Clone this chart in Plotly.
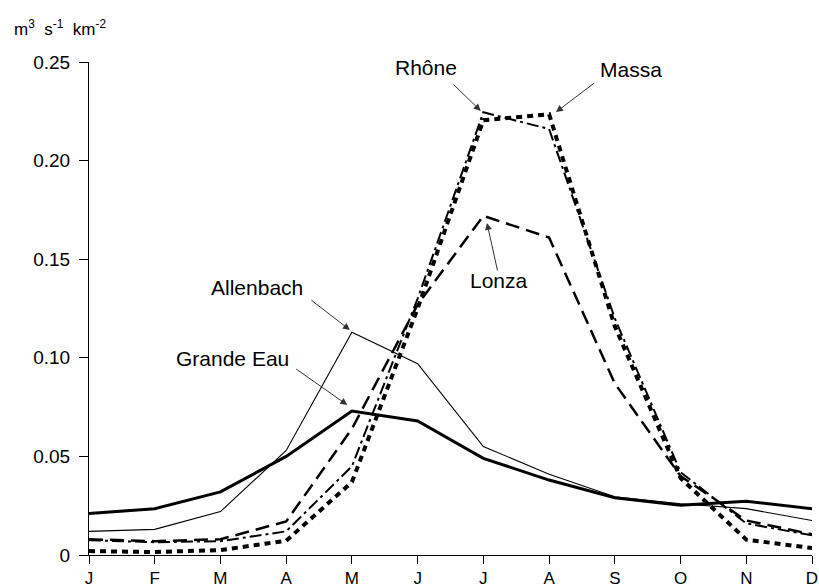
import plotly.graph_objects as go

months = ["J", "F", "M", "A", "M", "J", "J", "A", "S", "O", "N", "D"]
x_idx = list(range(12))

grande_eau = [0.021, 0.0235, 0.032, 0.050, 0.073, 0.068, 0.049, 0.038, 0.029, 0.0252, 0.0272, 0.0235]
allenbach  = [0.012, 0.013, 0.022, 0.053, 0.113, 0.097, 0.055, 0.041, 0.0295, 0.026, 0.0235, 0.0175]
lonza      = [0.008, 0.007, 0.008, 0.017, 0.064, 0.127, 0.172, 0.161, 0.087, 0.040, 0.0175, 0.0105]
rhone      = [0.0075, 0.0065, 0.007, 0.012, 0.045, 0.130, 0.2245, 0.216, 0.120, 0.042, 0.016, 0.010]
massa      = [0.002, 0.0015, 0.0025, 0.0072, 0.037, 0.125, 0.2205, 0.2235, 0.116, 0.039, 0.0078, 0.0035]

y_tickvals = [0, 0.05, 0.10, 0.15, 0.20, 0.25]
y_ticktext = ["0", "0.05", "0.10", "0.15", "0.20", "0.25"]

FONT = "Liberation Sans, Arial, sans-serif"

fig = go.Figure()
fig.add_trace(go.Scatter(x=x_idx, y=allenbach, mode="lines",
                         line=dict(color="black", width=1.1), name="Allenbach"))
fig.add_trace(go.Scatter(x=x_idx, y=grande_eau, mode="lines",
                         line=dict(color="black", width=3), name="Grande Eau"))
fig.add_trace(go.Scatter(x=x_idx, y=lonza, mode="lines",
                         line=dict(color="black", width=2.5, dash="14px,7px"), name="Lonza"))
fig.add_trace(go.Scatter(x=x_idx, y=rhone, mode="lines",
                         line=dict(color="black", width=2, dash="12px,4px,3px,4px"), name="Rhône"))
fig.add_trace(go.Scatter(x=x_idx, y=massa, mode="lines",
                         line=dict(color="black", width=4, dash="6px,5px"), name="Massa"))

# labels: (text, text_x, text_y, tail_x, tail_y, head_x, head_y)
labels = [
    ("Rhône", 5.13, 0.247, 5.52, 0.2394, 5.96, 0.2252),
    ("Massa", 8.25, 0.246, 7.71, 0.2399, 7.105, 0.2246),
    ("Lonza", 6.24, 0.139, 6.22, 0.1435, 6.055, 0.1684),
    ("Allenbach", 2.56, 0.1354, 3.36, 0.1298, 3.97, 0.1141),
    ("Grande Eau", 2.19, 0.0996, 3.13, 0.0948, 3.93, 0.0761),
]
annotations = []
for txt, tx, ty, ax, ay, hx, hy in labels:
    annotations.append(dict(x=tx, y=ty, xref="x", yref="y", text=txt, showarrow=False,
                            font=dict(family=FONT, size=21, color="black"),
                            xanchor="center", yanchor="middle"))
    annotations.append(dict(x=hx, y=hy, xref="x", yref="y", ax=ax, ay=ay,
                            axref="x", ayref="y", text="", showarrow=True,
                            arrowhead=2, arrowsize=1.4, arrowwidth=1, arrowcolor="#333"))

annotations.append(dict(x=-0.107, y=1.069, xref="paper", yref="paper",
                        text="m<sup>3</sup>  s<sup>-1</sup>  km<sup>-2</sup>", showarrow=False,
                        xanchor="left", yanchor="middle",
                        font=dict(family=FONT, size=17, color="black")))

fig.update_layout(
    width=819, height=588,
    margin=dict(l=89, r=7, t=62, b=33),
    paper_bgcolor="white", plot_bgcolor="white",
    showlegend=False,
    font=dict(family=FONT, size=19, color="black"),
    annotations=annotations,
    xaxis=dict(range=[0, 11], tickvals=x_idx, ticktext=months, showgrid=False,
               zeroline=False, showline=True, linecolor="black", linewidth=1,
               ticks="outside", ticklen=8, tickcolor="black", tickwidth=1,
               ticklabelstandoff=0, automargin=False,
               tickfont=dict(family=FONT, size=17)),
    yaxis=dict(range=[0, 0.25], tickvals=y_tickvals, ticktext=y_ticktext, showgrid=False,
               zeroline=False, showline=True, linecolor="black", linewidth=1,
               ticks="outside", ticklen=9, tickcolor="black", tickwidth=1,
               ticklabelstandoff=5, automargin=False,
               tickfont=dict(family=FONT, size=19)),
)

fig.write_html("out.html")
